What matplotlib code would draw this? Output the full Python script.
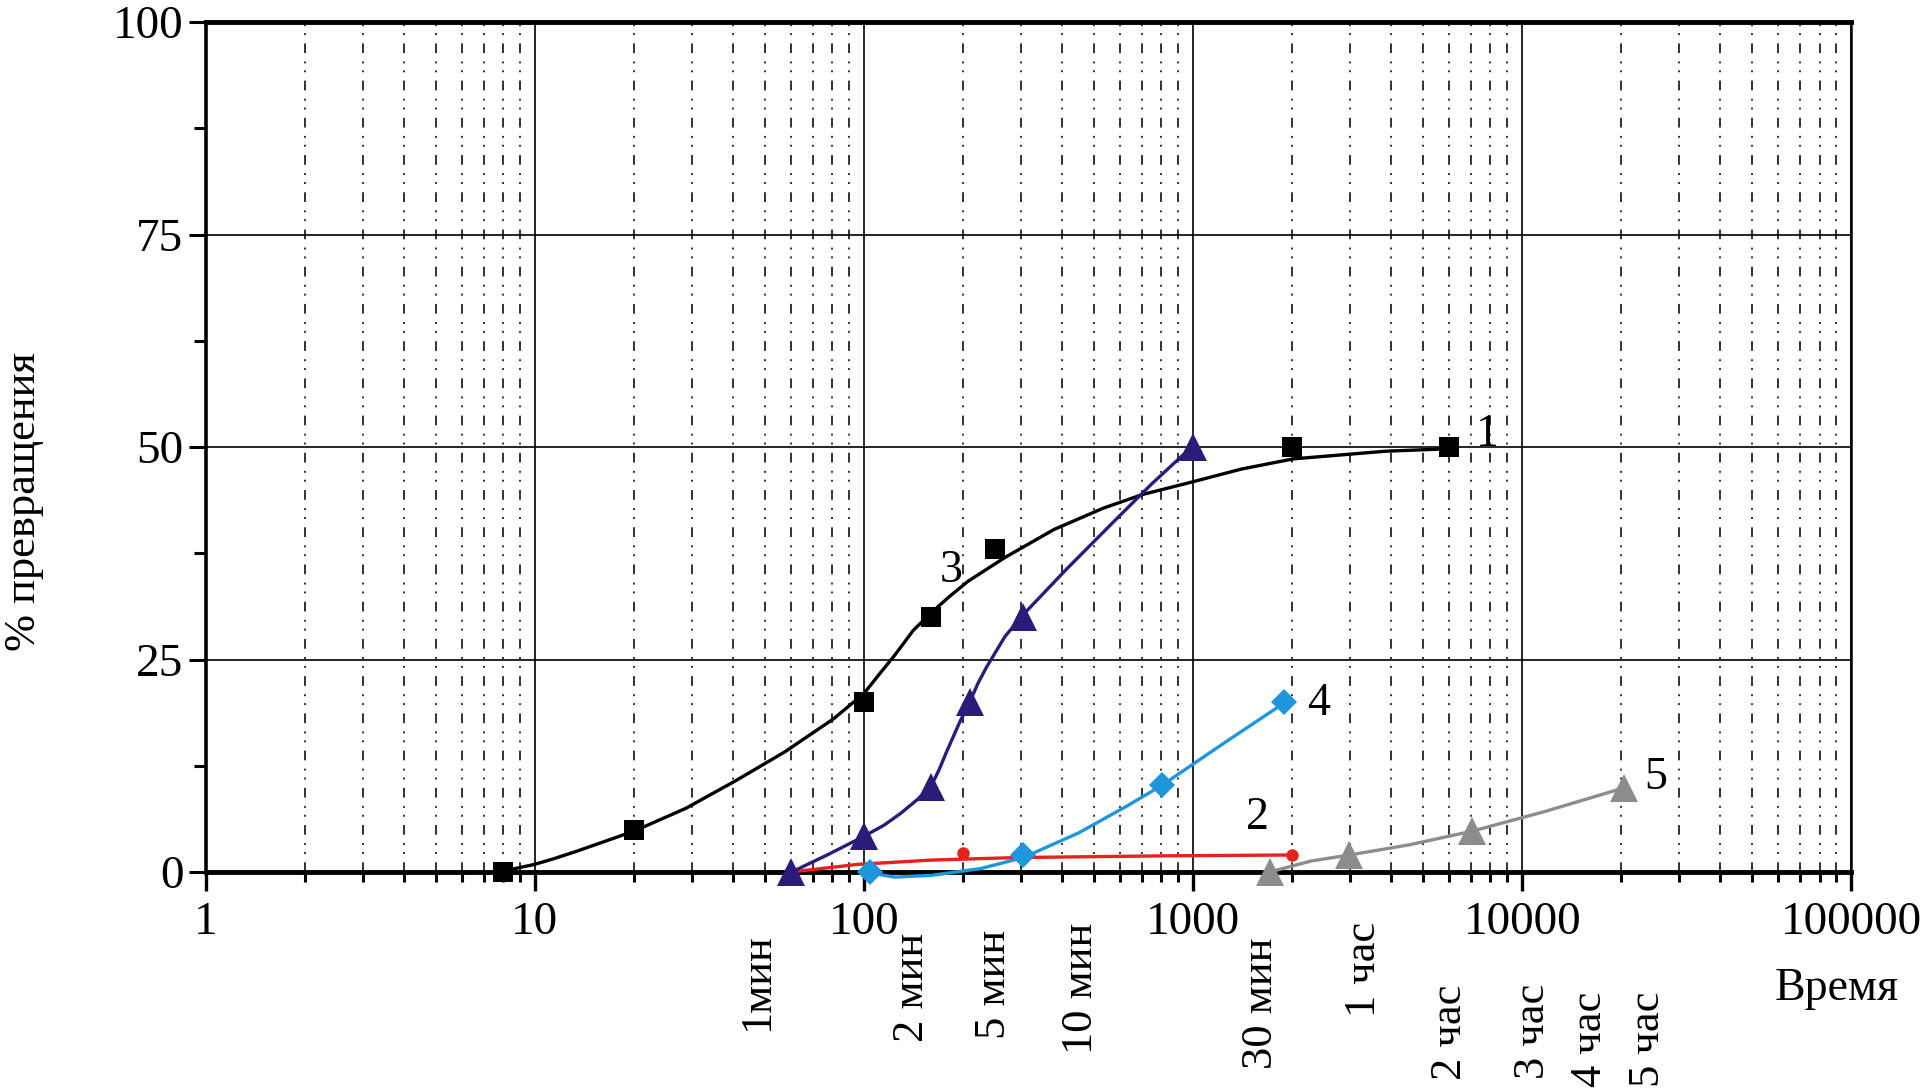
import numpy as np
import matplotlib
matplotlib.use('Agg')
import matplotlib.pyplot as plt
from matplotlib.ticker import LogLocator, MultipleLocator, NullFormatter

plt.rcParams['font.family'] = ['Liberation Serif', 'DejaVu Serif']
plt.rcParams['lines.scale_dashes'] = False

# --- data (x: seconds, y: %) ---
# curve 1, black squares + trend line
c1_x = [8, 20, 100, 160, 250, 2000, 6000]
c1_y = [0, 5, 20, 30, 38, 50, 50]
c1_line_x = [8, 10, 11.5, 13.3, 15.5, 20, 28.8, 40.6, 57.3, 80.7, 100, 112, 124, 141, 160,
             183, 207, 268, 378, 533, 700, 996, 1400, 2013, 3828, 6026]
c1_line_y = [0.1, 0.9, 1.6, 2.4, 3.3, 4.8, 7.5, 10.7, 14.1, 18.0, 21.0, 23.4, 25.5, 28.4, 30.5,
             32.5, 34.2, 37.0, 40.3, 42.8, 44.4, 45.9, 47.4, 48.6, 49.5, 49.8]

# curve 2, red circles
c2_x = [200, 2000]
c2_y = [2.2, 2.0]
c2_line_x = [60, 96, 160, 292, 817, 2000]
c2_line_y = [0, 0.9, 1.4, 1.7, 1.9, 2.0]

# curve 3, navy triangles
c3_x = [60, 100, 160, 210, 305, 1000]
c3_y = [0, 4.2, 10, 20, 30, 50]
c3_line_x = [60.3, 77.3, 100, 115, 129.3, 145, 160, 169, 177.6, 195.2, 209.1, 222, 235.7,
             268.1, 305, 411.7, 580, 750.4, 995.7]
c3_line_y = [0, 2.0, 4.2, 5.5, 6.9, 8.5, 10.1, 12.0, 14.0, 17.6, 19.9, 22.2, 24.1,
             27.7, 30.3, 35.6, 41.4, 45.7, 50.1]

# curve 4, blue diamonds
c4_x = [104, 305, 804, 1893]
c4_y = [0, 2, 10.2, 20]
c4_line_x = [104, 124, 160, 226, 305, 449, 632, 804, 1256, 1893]
c4_line_y = [-0.1, -0.6, -0.4, 0.4, 1.7, 4.6, 7.8, 10.2, 15.3, 19.9]

# curve 5, grey triangles
c5_x = [1709, 2985, 7030, 20370]
c5_y = [0, 2.0, 4.8, 9.9]
c5_line_x = [1709, 2287, 2985, 4540, 7030, 11670, 20370]
c5_line_y = [0, 1.3, 2.0, 3.2, 4.8, 7.1, 9.9]

curve_labels = ['1', '3', '4', '2', '5']
curve_label_x = [7853, 184, 2408, 1569, 25390]
curve_label_y = [51.4, 35.5, 19.75, 6.35, 11.1]

time_labels = ['1мин', '2 мин', '5 мин', '10 мин', '30 мин',
               '1 час', '2 час', '3 час', '4 час', '5 час']
time_label_x = [47.5, 139.9, 248.3, 456.1, 1607, 3304, 6029, 10775, 16055, 24090]
time_label_top = [-0.072, -0.072, -0.068, -0.060, -0.077, -0.059, -0.133, -0.131, -0.141, -0.141]

xticks = [1, 10, 100, 1000, 10000, 100000]
yticks = [0, 25, 50, 75, 100]

fig = plt.figure(figsize=(19.2, 10.9), dpi=100)
ax = fig.add_axes([0.1071, 0.2, 0.8572, 0.7798])

ax.set_xscale('log')
ax.set_xlim(1, 100000)
ax.set_ylim(0, 100)
ax.set_xticks(xticks, [str(t) for t in xticks])
ax.xaxis.set_minor_locator(LogLocator(base=10, subs=np.arange(2, 10)))
ax.xaxis.set_minor_formatter(NullFormatter())
ax.set_yticks(yticks)
ax.yaxis.set_minor_locator(MultipleLocator(12.5))

ax.grid(which='major', axis='both', color='black', lw=1.2, ls='-')
ax.grid(which='minor', axis='x', color='#222222', lw=1.3,
        ls=(0, (7, 6, 1.4, 5, 1.4, 6)))
ax.set_axisbelow(True)

for side, w in [('top', 3.5), ('bottom', 3.5), ('left', 2.6), ('right', 1.8)]:
    ax.spines[side].set_linewidth(w)

ax.tick_params(axis='x', which='major', length=14, width=2.4, pad=7, labelsize=34)
ax.tick_params(axis='x', which='minor', length=7, width=2.2)
ax.tick_params(axis='y', which='major', length=12, width=2.2, pad=4, labelsize=34)
ax.tick_params(axis='y', which='minor', length=9, width=2.2)

lw = 2.4
ax.plot(c1_line_x, c1_line_y, color='black', lw=lw, zorder=3, clip_on=False)
ax.plot(c1_x, c1_y, ls='none', marker='s', ms=15, color='black', mew=0, zorder=4, clip_on=False)

ax.plot(c2_line_x, c2_line_y, color='#E3231C', lw=lw, zorder=3, clip_on=False)
ax.plot(c2_x, c2_y, ls='none', marker='o', ms=9, color='#E3231C', mew=0, zorder=4, clip_on=False)

ax.plot(c3_line_x, c3_line_y, color='#2A1C78', lw=lw, zorder=3, clip_on=False)
ax.plot(c3_x, c3_y, ls='none', marker='^', ms=20, color='#2A1C78', mew=0, zorder=4, clip_on=False)

ax.plot(c4_line_x, c4_line_y, color='#1E96DC', lw=lw, zorder=3, clip_on=False)
ax.plot(c4_x, c4_y, ls='none', marker='D', ms=13, color='#1E96DC', mew=0, zorder=4, clip_on=False)

ax.plot(c5_line_x, c5_line_y, color='#8C8C8C', lw=lw, zorder=3, clip_on=False)
ax.plot(c5_x, c5_y, ls='none', marker='^', ms=20, color='#8C8C8C', mew=0, zorder=4, clip_on=False)

for lab, x, y in zip(curve_labels, curve_label_x, curve_label_y):
    ax.text(x, y, lab, fontsize=33, ha='center', va='center', zorder=5)

trans = ax.get_xaxis_transform()
for lab, x, y in zip(time_labels, time_label_x, time_label_top):
    ax.text(x, y, lab, transform=trans, rotation=90, fontsize=32,
            ha='center', va='top', clip_on=False)

fig.text(24 / 1920, 1 - 502 / 1090, '% превращения', rotation=90, fontsize=32,
         ha='center', va='center')
fig.text(0.9568, 0.0926, 'Время', fontsize=33, ha='center', va='center')

fig.savefig('out.png', dpi=100)
